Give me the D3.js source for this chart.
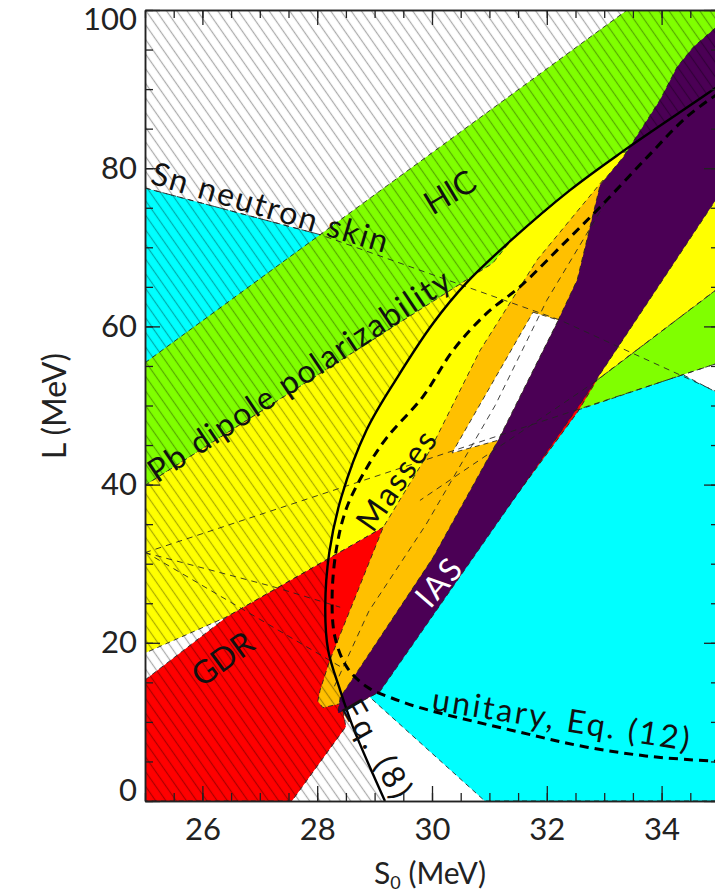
<!DOCTYPE html>
<html><head><meta charset="utf-8">
<script src="https://cdn.jsdelivr.net/npm/d3@7"></script>
<style>body{margin:0;background:#fff}svg{display:block}</style>
</head><body><svg id="c" width="715" height="896"></svg>
<script>
// ---------------- data (S0 in MeV, L in MeV) ----------------
const s0Domain = [25, 35];
const lDomain = [0, 100];
const xTickLabels = [26, 28, 30, 32, 34];
const yTickLabels = [0, 20, 40, 60, 80, 100];

const cyanUpperLeft = [[25,77.5],[28.05,71.6],[29.44,68.4],[25,48.2]];
const cyanLowerRight = [[32.45,49.4],[34.37,53.9],[35,51.5],[35,0],[30.92,0],[28.92,13.1]];
const greenBand = [[25,55.4],[33.40,100],[35,100],[35,89],[31.06,68.0],[25,39.9]];
const greenWedge = [[32.80,52.8],[35,64.9],[35,55.4],[34.37,53.9],[32.53,49.4]];
const yellowBand = [[25,39.9],[31.06,68.0],[31.38,70.9],[32.40,77.2],[33.30,82.0],[33.8,82.3],[32.4,59.5],[29.15,34.6],[26.43,23.3],[25,18.7]];
const yellowWedge = [[35,77.0],[32.80,52.8],[35,64.9]];
const redGDR = [[25,15.3],[26.43,23.3],[29.15,34.6],[32.87,53.2],[32.54,49.2],[31.0,34.0],[29.0,13.5],[28.45,11.3],[28.50,9.4],[27.56,0],[25,0]];
const orangeMasses = [[32.98,78.5],[31.83,68.4],[30.84,57.0],[29.97,44.4],[29.15,34.6],[28.57,24.1],[28.22,17.8],[28.05,14.0],[28.01,12.6],[28.10,11.8],[28.40,12.3],[29.0,13.5],[32.5,50.0],[33.2,78.0]];
const purpleIAS = [[34.93,97.7],[34.55,95.3],[34.27,92.8],[33.97,88.6],[33.33,81.4],[32.93,77.9],[32.53,65.9],[32.20,60.8],[31.15,45.6],[30.02,30.8],[28.40,13.1],[28.36,11.1],[29.09,13.8],[32.63,50.7],[35,76.6],[35,97.9]];
const whiteOverlap = [[31.76,61.8],[32.20,60.8],[31.15,45.6],[30.35,44.0]];

// Eq. (8) bound (solid)
const eq8S = [29.18,28.62,28.40,28.19,28.14,28.21,28.42,28.86,29.40,30.02,30.60,31.38,32.40,33.30,34.93,35.0];
const eq8L = [0,9.4,14.0,19.1,24.5,31.4,38.4,46.9,53.6,60.4,65.5,70.9,77.2,82.0,90.1,90.5];
// unitary, Eq. (12) (bold dashed)
const unitaryS = [35.0,34.44,33.75,32.93,32.23,31.53,30.96,30.37,29.84,29.22,28.87,28.52,28.34,28.26,28.31,28.52,28.87,29.27,29.79,31.53,32.70,33.85,35.0];
const unitaryL = [89.5,86.5,81.4,75.1,70.0,65.0,61.7,57.0,51.1,46.0,42.2,37.2,32.1,25.8,20.7,16.9,14.4,13.1,11.8,8.7,6.8,5.6,5.0];

// thin dashed constraint boundaries
const snSkinEdge = [[25,77.5],[28.05,71.6],[32.23,60.8],[34.37,53.7],[35,51.6]];
const lineA = [[25,31.4],[35,55.4]];
const lineB = [[25,31.5],[28.40,17.0]];
const lineC = [[25,31.4],[27.23,27.1],[28.4,24.5]];
const lineD = [[35,64.9],[32.80,52.8],[29.79,38.0]];
const massesInner = [[28.3,14.5],[28.9,24],[29.9,35],[31.1,50],[32.0,63.3],[33.05,76.0]];

// ---------------- drawing ----------------
const svg = d3.select("#c");
const x = d3.scaleLinear().domain(s0Domain).range([145, 719]);
const y = d3.scaleLinear().domain(lDomain).range([801, 10]);
const line = d3.line().x(d => x(d[0])).y(d => y(d[1]));
const FONT = "Lato, 'Noto Sans', sans-serif";

svg.append("rect").attr("width", 715).attr("height", 896).attr("fill", "#fff");
const defs = svg.append("defs");
defs.append("clipPath").attr("id", "plotclip").append("rect")
  .attr("x", x(25)).attr("y", y(100)).attr("width", x(35) - x(25)).attr("height", y(0) - y(100));
const eq8Pts = eq8S.map((s, i) => [s, eq8L[i]]);
const hatchPoly = [[25,100],[35,100]].concat(eq8Pts.slice().reverse()).concat([[25,0]]);
defs.append("clipPath").attr("id", "hatchclip").append("path").attr("d", line(hatchPoly) + "Z");
const pat = defs.append("pattern").attr("id", "hatch").attr("patternUnits", "userSpaceOnUse")
  .attr("width", 8.4).attr("height", 8.4).attr("patternTransform", "rotate(-35)");
pat.append("line").attr("x1", 4.2).attr("x2", 4.2).attr("y1", -1).attr("y2", 10)
  .attr("stroke", "#000").attr("stroke-opacity", 0.33).attr("stroke-width", 1.2);

const plot = svg.append("g").attr("clip-path", "url(#plotclip)");

const regions = [
  [cyanUpperLeft, "#00ffff"],
  [cyanLowerRight, "#00ffff"],
  [greenBand, "#80ff00"],
  [greenWedge, "#80ff00"],
  [yellowBand, "#ffff00"],
  [yellowWedge, "#ffff00"],
  [redGDR, "#ff0000"],
  [orangeMasses, "#ffc000"],
  [purpleIAS, "#4b0055"],
  [whiteOverlap, "#ffffff"]
];
regions.forEach(([pts, col]) => {
  plot.append("path").attr("d", line(pts) + "Z").attr("fill", col)
    .attr("stroke", "#222").attr("stroke-width", 1).attr("stroke-dasharray", "5,4").attr("stroke-opacity", 0.85);
});

// hatch over the region excluded by Eq. (8)
plot.append("g").attr("clip-path", "url(#hatchclip)").append("rect")
  .attr("x", x(25)).attr("y", y(100)).attr("width", x(35) - x(25)).attr("height", y(0) - y(100))
  .attr("fill", "url(#hatch)");

[snSkinEdge, lineA, lineB, lineC, lineD, massesInner].forEach(pts => {
  plot.append("path").attr("d", line(pts)).attr("fill", "none")
    .attr("stroke", "#222").attr("stroke-width", 1).attr("stroke-dasharray", "6,5").attr("stroke-opacity", 0.85);
});

const smooth = d3.line().x(d => x(d[0])).y(d => y(d[1])).curve(d3.curveCatmullRom);
plot.append("path").attr("d", smooth(unitaryS.map((s, i) => [s, unitaryL[i]])))
  .attr("fill", "none").attr("stroke", "#000").attr("stroke-width", 3).attr("stroke-dasharray", "9,6");
plot.append("path").attr("d", smooth(eq8Pts))
  .attr("fill", "none").attr("stroke", "#000").attr("stroke-width", 2.4);

// labels (placed in data coordinates)
const labels = [
  {t: "Sn neutron skin", s: 27.18, l: 75.2, a: 16.5, len: 245, c: "#111"},
  {t: "HIC", s: 30.30, l: 77.1, a: -31, len: 54, c: "#111"},
  {t: "Pb dipole polarizability", s: 27.67, l: 53.9, a: -33.6, len: 356, c: "#111"},
  {t: "Masses", s: 29.36, l: 40.6, a: -55, len: 114, c: "#111"},
  {t: "IAS", s: 30.10, l: 27.7, a: -49, len: 52, c: "#fff"},
  {t: "GDR", s: 26.34, l: 18.1, a: -36, len: 68, c: "#111"},
  {t: "unitary, Eq. (12)", s: 32.25, l: 10.5, a: 9, len: 260, c: "#111"},
  {t: "Eq. (8)", s: 29.06, l: 6.7, a: 60, len: 108, c: "#111"}
];
labels.forEach(d => {
  plot.append("text").attr("transform", `translate(${x(d.s)},${y(d.l)}) rotate(${d.a})`)
    .attr("text-anchor", "middle").attr("dominant-baseline", "central")
    .attr("font-family", FONT).attr("font-size", 32).attr("fill", d.c)
    .attr("textLength", d.len).attr("lengthAdjust", "spacing").text(d.t);
});

// axes
function styleAxis(g) {
  g.selectAll("path.domain").attr("stroke", "#222").attr("stroke-width", 1.5);
  g.selectAll(".tick line").attr("stroke", "#222").attr("stroke-width", 1.3);
  g.selectAll("text").attr("font-family", FONT).attr("font-size", 31).attr("fill", "#222");
}
const xMinor = d3.range(25, 35.01, 0.5);
const yMinor = d3.range(0, 100.01, 5);

svg.append("g").attr("transform", `translate(0,${y(0)})`)
  .call(d3.axisBottom(x).tickValues(xMinor).tickSize(-8).tickSizeOuter(0).tickFormat(""))
  .call(styleAxis);
svg.append("g").attr("transform", `translate(0,${y(0)})`)
  .call(d3.axisBottom(x).tickValues(xTickLabels).tickSize(-15).tickSizeOuter(0).tickPadding(17).tickFormat(d3.format("d")))
  .call(styleAxis);
svg.append("g").attr("transform", `translate(0,${y(100)})`)
  .call(d3.axisTop(x).tickValues(xMinor).tickSize(-8).tickSizeOuter(0).tickFormat(""))
  .call(styleAxis);
svg.append("g").attr("transform", `translate(0,${y(100)})`)
  .call(d3.axisTop(x).tickValues(xTickLabels).tickSize(-15).tickSizeOuter(0).tickFormat(""))
  .call(styleAxis);
svg.append("g").attr("transform", `translate(${x(25)},0)`)
  .call(d3.axisLeft(y).tickValues(yMinor).tickSize(-8).tickSizeOuter(0).tickFormat(""))
  .call(styleAxis);
const yAx = svg.append("g").attr("transform", `translate(${x(25)},0)`)
  .call(d3.axisLeft(y).tickValues(yTickLabels).tickSize(-15).tickSizeOuter(0).tickPadding(8).tickFormat(d3.format("d")))
  .call(styleAxis);
// keep the end labels inside the picture, as in the reference
yAx.selectAll(".tick text").attr("transform", d => d === 100 ? "translate(0,10)" : d === 0 ? "translate(0,-10)" : null);
svg.append("g").attr("transform", `translate(${x(35)},0)`)
  .call(d3.axisRight(y).tickValues(yMinor).tickSize(-8).tickSizeOuter(0).tickFormat(""))
  .call(styleAxis);
svg.append("g").attr("transform", `translate(${x(35)},0)`)
  .call(d3.axisRight(y).tickValues(yTickLabels).tickSize(-15).tickSizeOuter(0).tickFormat(""))
  .call(styleAxis);

// axis titles
const xt = svg.append("text").attr("x", 430).attr("y", 884).attr("text-anchor", "middle")
  .attr("font-family", FONT).attr("font-size", 30).attr("fill", "#222");
xt.append("tspan").text("S");
xt.append("tspan").attr("font-size", 18).attr("dy", 5).text("0");
xt.append("tspan").attr("dy", -5).text(" (MeV)");
svg.append("text").attr("transform", "translate(66,406) rotate(-90)").attr("text-anchor", "middle")
  .attr("font-family", FONT).attr("font-size", 32).attr("fill", "#222").text("L (MeV)");
</script></body></html>
